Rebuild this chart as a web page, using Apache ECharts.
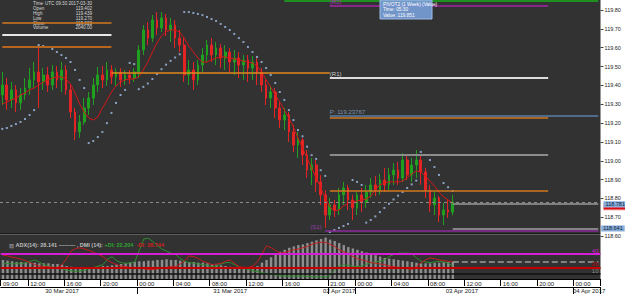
<!DOCTYPE html>
<html><head><meta charset="utf-8">
<script src="https://cdn.jsdelivr.net/npm/echarts@6/dist/echarts.min.js"></script>
<style>html,body{margin:0;padding:0;background:#fff}#c{width:625px;height:294px}</style>
</head><body><div id="c"></div>
<script>
// ---------- data ----------
const sessionStarts = [Date.UTC(2017,2,30,9,0), Date.UTC(2017,3,2,21,0)];
const sessionSlots = [72, 60]; // 30-minute slots
const opens = [119.349,119.402,119.323,119.376,119.307,119.349,119.386,119.429,119.471,119.418,
119.455,119.402,119.471,119.429,119.482,119.376,119.259,119.153,119.206,119.280,
119.333,119.402,119.455,119.429,119.482,119.445,119.471,119.429,119.455,119.439,
119.471,119.588,119.694,119.651,119.747,119.705,119.758,119.694,119.720,119.651,
119.614,119.455,119.482,119.429,119.508,119.561,119.614,119.561,119.598,119.545,
119.577,119.524,119.545,119.508,119.535,119.492,119.524,119.471,119.402,119.333,
119.365,119.280,119.216,119.243,119.153,119.084,119.110,119.031,118.951,118.978,
118.888,118.819,118.712,118.766,118.739,118.819,118.856,118.792,118.750,118.819,
118.781,118.834,118.872,118.845,118.898,118.872,118.925,118.951,118.909,119.004,
118.925,118.978,119.004,118.941,118.845,118.766,118.803,118.712,118.739,118.728];
const closes = [119.402,119.323,119.376,119.307,119.349,119.386,119.429,119.471,119.418,119.455,
119.402,119.471,119.429,119.482,119.376,119.259,119.153,119.206,119.280,119.333,
119.402,119.455,119.429,119.482,119.445,119.471,119.429,119.455,119.439,119.471,
119.588,119.694,119.651,119.747,119.705,119.758,119.694,119.720,119.651,119.614,
119.455,119.482,119.429,119.508,119.561,119.614,119.561,119.598,119.545,119.577,
119.524,119.545,119.508,119.535,119.492,119.524,119.471,119.402,119.333,119.365,
119.280,119.216,119.243,119.153,119.084,119.110,119.031,118.951,118.978,118.888,
118.819,118.712,118.766,118.739,118.819,118.856,118.792,118.750,118.819,118.781,
118.834,118.872,118.845,118.898,118.872,118.925,118.951,118.909,119.004,118.925,
118.978,119.004,118.941,118.845,118.766,118.803,118.712,118.739,118.728,118.781];
const lows = [119.296,119.270,119.280,119.259,119.270,119.323,119.349,119.386,119.280,119.376,
119.365,119.376,119.386,119.365,119.349,119.227,119.110,119.121,119.190,119.243,
119.296,119.365,119.386,119.397,119.407,119.397,119.392,119.402,119.407,119.418,
119.439,119.561,119.614,119.630,119.667,119.683,119.662,119.630,119.598,119.577,
119.418,119.402,119.376,119.402,119.471,119.524,119.524,119.508,119.492,119.482,
119.471,119.455,119.439,119.429,119.418,119.429,119.402,119.365,119.296,119.280,
119.227,119.174,119.163,119.100,119.047,119.015,118.978,118.909,118.872,118.834,
118.766,118.644,118.686,118.702,118.712,118.766,118.739,118.686,118.712,118.728,
118.750,118.803,118.813,118.819,118.834,118.845,118.872,118.872,118.888,118.898,
118.888,118.909,118.872,118.803,118.728,118.712,118.675,118.659,118.697,118.712];
const highs = [119.471,119.439,119.418,119.402,119.386,119.439,119.492,119.524,119.614,119.492,
119.498,119.508,119.503,119.524,119.508,119.402,119.280,119.243,119.333,119.365,
119.439,119.498,119.503,119.524,119.508,119.492,119.492,119.482,119.482,119.492,
119.614,119.720,119.736,119.773,119.789,119.789,119.779,119.758,119.747,119.694,
119.651,119.535,119.524,119.535,119.598,119.641,119.651,119.630,119.620,119.614,
119.598,119.588,119.577,119.561,119.561,119.556,119.545,119.492,119.429,119.397,
119.386,119.312,119.280,119.259,119.190,119.153,119.121,119.057,119.015,119.004,
118.925,118.845,118.803,118.792,118.856,118.888,118.872,118.819,118.834,118.856,
118.872,118.909,118.919,118.930,118.962,118.962,118.988,118.994,119.041,119.031,
119.015,119.057,119.031,118.962,118.872,118.834,118.813,118.776,118.792,118.819];
const maValues = [119.301,119.312,119.323,119.333,119.349,119.360,119.376,119.386,119.402,119.418,
119.429,119.439,119.445,119.445,119.434,119.407,119.360,119.301,119.259,119.227,
119.216,119.232,119.280,119.320,119.365,119.397,119.418,119.429,119.434,119.434,
119.445,119.482,119.524,119.577,119.625,119.662,119.683,119.694,119.694,119.683,
119.651,119.609,119.577,119.545,119.524,119.524,119.535,119.545,119.551,119.551,
119.545,119.540,119.535,119.529,119.524,119.519,119.503,119.471,119.429,119.392,
119.349,119.312,119.270,119.227,119.179,119.121,119.068,119.015,118.962,118.909,
118.856,118.803,118.755,118.734,118.739,118.760,118.776,118.781,118.787,118.792,
118.797,118.813,118.845,118.872,118.882,118.888,118.888,118.888,118.893,118.909,
118.930,118.946,118.941,118.919,118.893,118.866,118.834,118.808,118.792,118.776];
const sarValues = [119.169,119.174,119.185,119.195,119.206,119.222,119.243,119.269,119.614,119.609,
119.604,119.593,119.577,119.561,119.545,119.524,119.482,119.429,119.386,119.094,
119.105,119.126,119.153,119.200,119.254,119.307,119.349,119.376,119.519,119.513,
119.380,119.392,119.410,119.434,119.460,119.486,119.510,119.530,119.548,119.565,
119.789,119.789,119.784,119.779,119.773,119.763,119.752,119.742,119.726,119.710,
119.694,119.673,119.651,119.630,119.604,119.577,119.551,119.524,119.492,119.455,
119.413,119.365,119.323,119.269,119.216,119.163,119.130,119.075,119.030,119.010,
118.950,118.920,118.622,118.633,118.644,118.654,118.665,118.898,118.888,118.872,
118.672,118.686,118.705,118.728,118.750,118.772,118.795,118.815,118.834,118.856,
118.875,118.895,119.047,119.031,119.004,118.967,118.925,118.882,118.860,118.840];
const adxValues = [31,30,29,28,28,27,27,27,26,26, 26,25,25,24,22,21,20,19,19,20,
20,21,22,22,23,24,25,26,27,28, 29,29,30,30,31,31,32,31,31,30,
29,28,28,27,27,26,25,24,23,22, 21,20,20,20,19,19,22,27,31,35,
39,43,46,49,51,53,54,56,58,60, 62,64,61,59,56,53,50,48,46,44,
42,40,38,36,34,33,32,31,30,29, 28,27,26,26,26,27,27,28,28,28.141];
const plusDI = [25,26,25,26,25,27,29,31,28,24, 22,20,19,18,16,15,14,15,16,18,
20,22,24,32,36,30,27,26,27,28, 45,62,63,58,52,47,44,41,39,33,
29,27,26,25,24,23,21,22,25,27, 27,24,20,19,17,15,14,12,11,10,
9,8,7,7,7,7,7,7,6,6, 6,6,8,17,22,24,23,22,21,22,
25,27,28,29,31,36,39,41,41,41, 40,34,29,28,27,28,29,28,26,22.204];
const minusDI = [38,37,35,34,32,30,27,24,22,21, 21,20,20,24,33,44,48,49,47,45,
42,39,36,30,27,24,22,21,20,20, 19,18,17,17,18,19,20,21,21,25,
30,37,36,33,29,27,24,25,26,29, 31,26,21,20,20,22,28,40,52,49,
45,41,42,44,46,47,49,51,54,56, 57,57,54,51,46,43,40,36,33,31,
29,27,26,25,24,22,21,20,20,18, 17,21,27,31,34,33,31,30,29,28.744];
// pivot / level lines (price, start slot, end slot, caption)
const levelValues = [119.848,119.821,119.731,119.667,119.604,119.466,119.439,119.238,119.227,119.031,118.840,118.771,118.641,118.628];
const levelStart = ['03-31 16:00','04-02 21:00','03-30 09:00','03-30 09:00','03-30 09:00','03-30 21:00','04-02 21:00','04-02 21:00','04-02 21:00','04-02 21:00','04-02 21:00','04-03 10:30','04-03 10:30','03-31 20:30'];
const levelEnd = ['04-04 02:30','04-03 21:00','03-30 21:00','03-30 21:00','03-30 21:00','04-02 21:00','04-03 21:00','04-04 02:30','04-03 21:00','04-03 21:00','04-03 21:00','04-04 02:30','04-04 02:30','04-04 02:30'];
const levelCaptions = ['','(R2)','','','','','(R1)','P: 119.23767','','','','','','(S1)'];
const levelTags = ['','','','','','','','','','','','','118.641',''];
const lastPrice = 118.781;
const indLevels = [40, 20, 10];
const indTagValues = [58.19, 30.897, 28.744, 28.141];
const timeTickCats = ['03-30 09:00','03-30 12:00','03-30 16:00','03-30 20:00','03-31 00:00','03-31 04:00','03-31 08:00','03-31 12:00','03-31 16:00','04-02 21:00','04-03 00:00','04-03 04:00','04-03 08:00','04-03 12:00','04-03 16:00','04-03 20:00','04-04 00:00'];
const dateBoundaryCats = ['03-31 00:00','04-02 21:00','04-03 00:00','04-04 00:00'];
const dateLabelCats = ['03-30 15:30','03-31 10:00','04-02 22:00','04-03 11:30','04-04 01:30'];
const dateLabels = ['30 Mar 2017','31 Mar 2017','02 Apr 2017','03 Apr 2017','04 Apr 2017'];
const infoNames = ['Time','Open','High','Low','Close','Volume'];
const infoValues = ['UTC 09:30 2017-03-30','119.402','119.439','119.270','119.323','2040.00'];
const tipLines = ['PIVOT2 (1 Week) (Value)','Time: 05:30','Value: 119.851'];

// ---------- build ----------
const pad = n => String(n).padStart(2,'0');
const categories = [];
sessionStarts.forEach((s, k) => {
  for (let j = 0; j < sessionSlots[k]; j++) {
    const d = new Date(s + j * 1800000);
    categories.push(pad(d.getUTCMonth()+1)+'-'+pad(d.getUTCDate())+' '+pad(d.getUTCHours())+':'+pad(d.getUTCMinutes()));
  }
});
const candleData = opens.map((o, i) => [o, closes[i], lows[i], highs[i]]);
const timeSet = new Set(timeTickCats);
const dateBSet = new Set(dateBoundaryCats);
const dateLSet = new Set(dateLabelCats);

const levelStyles = [
  {color:'#1f8f1f', width:2},
  {color:'#a226a8', width:1.5},
  {color:'#d2781e', width:1.5},
  {color:'#e6e6e6', width:2},
  {color:'#b5651d', width:2},
  {color:'#e08a1e', width:1.5},
  {color:'#dcdcdc', width:2},
  {color:'#4f6b8c', width:2},
  {color:'#d2781e', width:1.5},
  {color:'#8c8c8c', width:2},
  {color:'#d2781e', width:1.5},
  {color:'#9a9a9a', width:1.5},
  {color:'#a0a0a0', width:1.5},
  {color:'#8e2a9e', width:1.5}
];
const captionColors = ['', '#b030b8', '', '', '', '', '#c8c8c8', '#7f93ad', '', '', '', '', '', '#9a3aaa'];
const FONT = 'Liberation Sans';
const tagBox = {backgroundColor:'#86acd8', color:'#10233a', padding:[0,2,0,2], fontSize:5.5, fontFamily:FONT, distance:3};

const levelLines = levelValues.map((v, k) => {
  const st = levelStyles[k];
  let startLabel = {show:false};
  if (levelCaptions[k]) {
    startLabel = {show:true, position:'insideStartTop', formatter: levelCaptions[k], color: captionColors[k], fontSize:6, fontFamily: FONT, distance:[k === 13 ? -15 : 0, 1]};
  }
  const endLabel = levelTags[k] ? Object.assign({show:true, position:'end', formatter: levelTags[k]}, tagBox) : {show:false};
  return [
    {coord:[levelStart[k], v], lineStyle:{color:st.color, width:st.width, type:'solid'}, label: levelTags[k] ? endLabel : startLabel},
    {coord:[levelEnd[k], v]}
  ];
});

const mainMarkData = levelLines.concat([
  {yAxis: lastPrice, lineStyle:{color:'#8a8a8a', width:1, type:[3,3]},
   label: Object.assign({show:true, position:'end', formatter: String(lastPrice), shadowColor:'#d81010', shadowOffsetY:2.5, shadowBlur:0, offset:[0,2]}, tagBox)}
]);

const indColors = ['#d61ed6', '#c40000', '#111'];
const indMark = indLevels.map((v, k) => ({yAxis: v, lineStyle:{color: indColors[k], width: k < 2 ? 2 : 1.5, type:'solid'},
  label:{show:true, position:'insideEndTop', formatter: String(v), color: k===2 ? '#888' : indColors[k], fontSize:6, fontFamily:FONT, distance:[2,0]}}));
indMark.push([{coord:['04-03 10:30', adxValues[99]], lineStyle:{color:'#9a9a9a', width:1.5}}, {coord:['04-04 02:30', adxValues[99]]}]);
indMark.push({yAxis: indTagValues[0], lineStyle:{opacity:0}, label:{show:true, position:'end', formatter:'58.19', color:'#222', fontSize:6, fontFamily:FONT, distance:6}});
indMark.push({yAxis: indTagValues[1], lineStyle:{opacity:0}, label:{show:true, position:'end', formatter:'30.897', color:'#222', fontSize:6, fontFamily:FONT, distance:6, offset:[0,-5]}});
indMark.push({yAxis: indTagValues[2], lineStyle:{opacity:0}, label:{show:true, position:'end', formatter:String(indTagValues[2]), backgroundColor:'#b00000', color:'#fff', padding:[1,2,0,2], fontSize:6, fontFamily:FONT, distance:3}});
indMark.push({yAxis: indTagValues[3], lineStyle:{opacity:0}, label:{show:true, position:'end', formatter:String(indTagValues[3]), backgroundColor:'#5a5a5a', color:'#fff', padding:[1,2,0,2], fontSize:6, fontFamily:FONT, distance:3, offset:[0,9]}});

const graphics = [
  {type:'rect', shape:{x:0, y:0, width:600.5, height:233}, style:{fill:'#323232'}, z:0, silent:true},
  {type:'rect', shape:{x:0, y:233, width:600.5, height:1.5}, style:{fill:'#1a1a1a'}, z:0, silent:true},
  {type:'rect', shape:{x:0, y:234.5, width:600.5, height:45.5}, style:{fill:'#323232'}, z:0, silent:true},
  {type:'text', x:33, y:1, style:{text: infoNames.join('\n'), fill:'#d8d8d8', fontSize:4.6, lineHeight:4.9, fontFamily:FONT}, z:1, silent:true},
  {type:'text', x:92, y:1, style:{text: infoValues.join('\n'), fill:'#d8d8d8', fontSize:4.6, lineHeight:4.9, fontFamily:FONT, align:'right'}, z:1, silent:true},
  {type:'rect', shape:{x:380, y:0, width:52, height:19}, style:{fill:'rgba(118,156,214,0.92)', stroke:'#9fbbe6'}, z:50, silent:true},
  {type:'text', x:383, y:1.5, style:{text: tipLines.join('\n'), fill:'#fff', fontSize:4.8, lineHeight:5.4, fontFamily:FONT}, z:51, silent:true}
];

const chart = echarts.init(document.getElementById('c'), null, {renderer:'svg', width:625, height:294});
chart.setOption({
  animation:false,
  backgroundColor:'#ffffff',
  textStyle:{fontFamily:FONT},
  graphic: graphics,
  title:{left:4, top:237, z:5, text:'{i|⊠} {w|ADX(14): 28.141} {l|———} {w|, DMI (14):} {g|+DI: 22.204}  {r|-DI: 28.744}',
    textStyle:{fontSize:5.5, rich:{i:{color:'#888', fontSize:6, fontFamily:'DejaVu Sans'}, w:{color:'#bdbdbd', fontSize:5.5}, l:{color:'#aaa', fontSize:5.5}, g:{color:'#2fa52f', fontSize:5.5}, r:{color:'#d02020', fontSize:5.5}}}},
  grid:[
    {left:-4.5, width:605, top:0, height:236.2, show:false},
    {left:-4.5, width:605, top:234.5, height:45.5, show:false}
  ],
  xAxis:[
    {type:'category', gridIndex:0, data:categories, show:false, boundaryGap:true},
    {type:'category', gridIndex:1, data:categories, position:'bottom', boundaryGap:true, z:5,
      axisLine:{show:true, lineStyle:{color:'#000', width:1}},
      axisTick:{show:true, interval:(i, v) => timeSet.has(v), length:7, lineStyle:{color:'#000'}},
      axisLabel:{show:true, interval:(i, v) => timeSet.has(v), formatter: v => v.slice(6), align:'left', color:'#222', fontSize:6, margin:1.5, fontFamily:FONT}},
    {type:'category', gridIndex:1, data:categories, position:'bottom', offset:8, boundaryGap:true, z:5,
      axisLine:{show:true, lineStyle:{color:'#000', width:1}},
      axisTick:{show:true, interval:(i, v) => dateBSet.has(v), length:7, lineStyle:{color:'#000'}},
      axisLabel:{show:true, interval:(i, v) => dateLSet.has(v), formatter: v => dateLabels[dateLabelCats.indexOf(v)], align:'center', color:'#222', fontSize:6, margin:1, fontFamily:FONT}}
  ],
  yAxis:[
    {type:'value', gridIndex:0, position:'right', min:118.6, max:119.853, interval:0.1, z:5,
      splitLine:{show:false}, axisLine:{show:false},
      axisTick:{show:true, length:3, lineStyle:{color:'#444'}},
      axisLabel:{show:true, showMaxLabel:false, formatter: v => v.toFixed(2), color:'#222', fontSize:5.5, margin:4, fontFamily:FONT}},
    {type:'value', gridIndex:1, position:'right', min:2.857, max:68.571, show:false, splitLine:{show:false}}
  ],
  series:[
    {type:'candlestick', xAxisIndex:0, yAxisIndex:0, data:candleData, barWidth:2.2,
      itemStyle:{color:'#1fa01f', color0:'#e42424', borderColor:'#1fa01f', borderColor0:'#e42424', borderWidth:1},
      markLine:{silent:true, symbol:['none','none'], data: mainMarkData}},
    {type:'line', xAxisIndex:0, yAxisIndex:0, data:maValues, symbol:'none', lineStyle:{color:'#d41818', width:1}, z:3},
    {type:'scatter', xAxisIndex:0, yAxisIndex:0, data:sarValues, symbol:'rect', symbolSize:2, itemStyle:{color:'#9fbde6'}, z:4},
    {type:'bar', xAxisIndex:1, yAxisIndex:1, data:adxValues, barWidth:2.4, itemStyle:{color:'#8e8e8e'},
      markLine:{silent:true, symbol:['none','none'], data: indMark}},
    {type:'line', xAxisIndex:1, yAxisIndex:1, data:plusDI, symbol:'none', lineStyle:{color:'#2d8c2d', width:1}},
    {type:'line', xAxisIndex:1, yAxisIndex:1, data:minusDI, symbol:'none', lineStyle:{color:'#c41e1e', width:1}}
  ]
});
</script></body></html>
